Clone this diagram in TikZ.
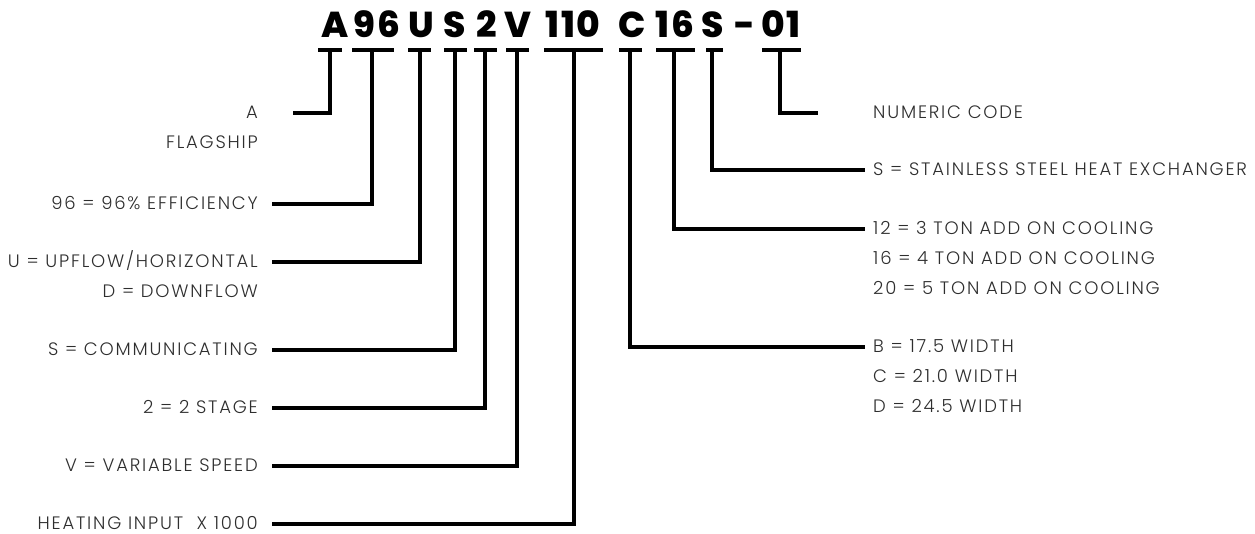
\documentclass[tikz,border=0pt]{standalone}
\usepackage{fontspec}
\setmainfont{Poppins}
\newfontfamily\lblfont[LetterSpace=10]{Poppins Light}
\newfontfamily\hdrfont[LetterSpace=4]{Poppins ExtraBold}
\definecolor{txt}{HTML}{2E2E2E}
\begin{document}
\begin{tikzpicture}[x=1pt,y=-1pt,
  hdr/.style={anchor=base,inner sep=0pt,font=\hdrfont\fontsize{36}{40}\selectfont,text=black},
  lbl/.style={anchor=base east,inner sep=0pt,text depth=0pt,font=\lblfont\fontsize{18}{20}\selectfont,text=txt},
  rlbl/.style={anchor=base west,inner sep=0pt,text depth=0pt,font=\lblfont\fontsize{18}{20}\selectfont,text=txt},
  capbar/.style={line width=4pt,draw=black},
  conn/.style={line width=4pt,draw=black,line join=miter}]
\useasboundingbox (0,0) rectangle (1255,533);
% header characters
\node[hdr] (hA) at (335,37) {A};
\node[hdr] (h96) at (377,37) {96};
\node[hdr] (hU) at (421,37) {U};
\node[hdr] (hS) at (455,37) {S};
\node[hdr] (h2) at (487,37) {2};
\node[hdr] (hV) at (518,37) {V};
\node[hdr] (h110) at (573,37) {110};
\node[hdr] (hC) at (632,37) {C};
\node[hdr] (h16) at (675,37) {16};
\node[hdr] (hS2) at (713,37) {S};
\node[hdr] (hdash) at (745,37) {-};
\node[hdr] (h01) at (781,37) {01};
% caps
\draw[capbar] (318,50) -- (342,50);
\draw[capbar] (352,50) -- (394,50);
\draw[capbar] (408,50) -- (431,50);
\draw[capbar] (444,50) -- (467,50);
\draw[capbar] (474,50) -- (497,50);
\draw[capbar] (506,50) -- (529,50);
\draw[capbar] (544,50) -- (603,50);
\draw[capbar] (619,50) -- (642,50);
\draw[capbar] (656,50) -- (695,50);
\draw[capbar] (706,50) -- (723,50);
\draw[capbar] (762,50) -- (801,50);
% stem top coordinates
\coordinate (sA) at (330,48);
\coordinate (s96) at (372,48);
\coordinate (sU) at (420,48);
\coordinate (sS) at (455,48);
\coordinate (s2) at (485,48);
\coordinate (sV) at (517,48);
\coordinate (s110) at (573.5,48);
\coordinate (sC) at (630,48);
\coordinate (s16) at (674,48);
\coordinate (sS2) at (712,48);
\coordinate (s01) at (780,48);
% left line ends
\coordinate (eA) at (293,113);
\coordinate (e96) at (272,204);
\coordinate (eU) at (272,262);
\coordinate (eS) at (272,350);
\coordinate (e2) at (272,408);
\coordinate (eV) at (272,466);
\coordinate (e110) at (272,524);
% right line ends
\coordinate (e01) at (818,113);
\coordinate (eS2) at (865,170);
\coordinate (e16) at (865,229);
\coordinate (eC) at (865,347);
% connectors
\draw[conn] (sA) |- (eA);
\draw[conn] (s96) |- (e96);
\draw[conn] (sU) |- (eU);
\draw[conn] (sS) |- (eS);
\draw[conn] (s2) |- (e2);
\draw[conn] (sV) |- (eV);
\draw[conn] (s110) |- (e110);
\draw[conn] (sC) |- (eC);
\draw[conn] (s16) |- (e16);
\draw[conn] (sS2) |- (eS2);
\draw[conn] (s01) |- (e01);
% left labels
\node[lbl] (lA) at (258,118.5) {A};
\node[lbl] (lA2) at (258,148.5) {FLAGSHIP};
\node[lbl] (l96) at (258,209.5) {96 = 96\% EFFICIENCY};
\node[lbl] (lU) at (258,267.5) {U = UPFLOW/HORIZONTAL};
\node[lbl] (lU2) at (258,297.5) {D = DOWNFLOW};
\node[lbl] (lS) at (258,355.5) {S = COMMUNICATING};
\node[lbl] (l2) at (258,413.5) {2 = 2 STAGE};
\node[lbl] (lV) at (258,471.5) {V = VARIABLE SPEED};
\node[lbl] (l110) at (258,529) {HEATING INPUT\ \ X 1000};
% right labels
\node[rlbl] (r01) at (873,118.5) {NUMERIC CODE};
\node[rlbl] (rS) at (873,175.5) {S = STAINLESS STEEL HEAT EXCHANGER};
\node[rlbl] (r12) at (873,234.5) {12 = 3 TON ADD ON COOLING};
\node[rlbl] (r16) at (873,264.5) {16 = 4 TON ADD ON COOLING};
\node[rlbl] (r20) at (873,294.5) {20 = 5 TON ADD ON COOLING};
\node[rlbl] (rB) at (873,352.5) {B = 17.5 WIDTH};
\node[rlbl] (rC) at (873,382.5) {C = 21.0 WIDTH};
\node[rlbl] (rD) at (873,412.5) {D = 24.5 WIDTH};
\end{tikzpicture}
\end{document}
